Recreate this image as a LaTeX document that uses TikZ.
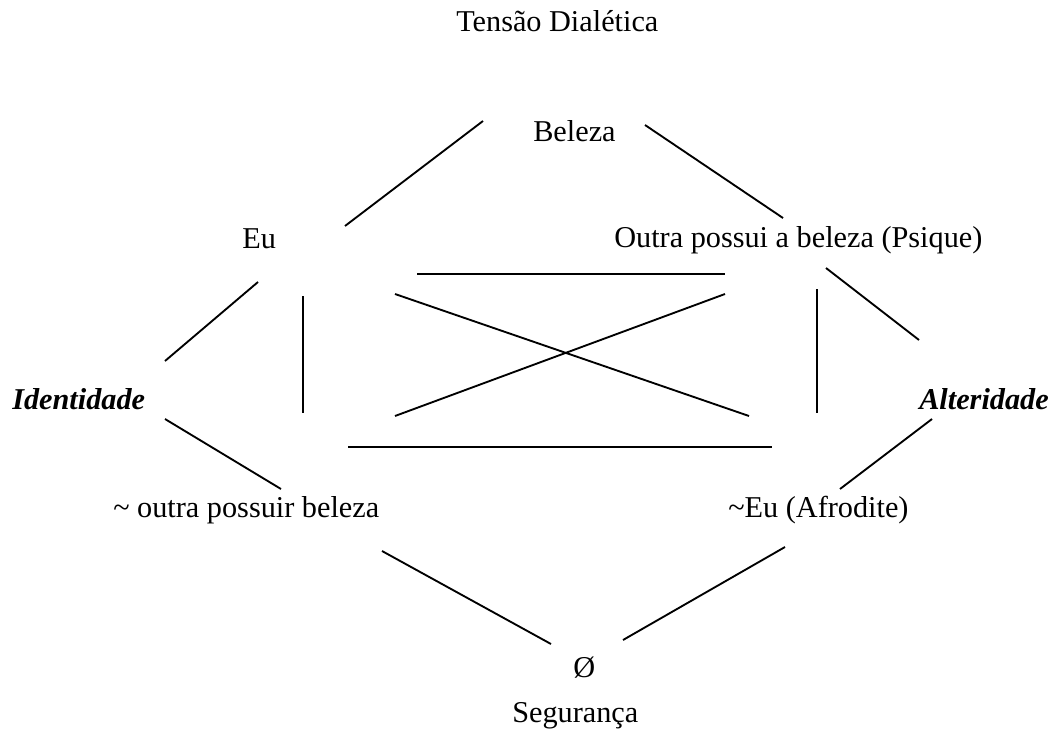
\documentclass[tikz,border=0pt]{standalone}
\usepackage{fontspec}
\setmainfont{Liberation Serif}
\begin{document}
\begin{tikzpicture}[x=0.75pt,y=-0.75pt,
  lbl/.style={inner sep=0pt,anchor=base west,font=\fontsize{22.7}{27}\selectfont},
  emph/.style={lbl,font=\fontsize{22.7}{27}\selectfont\bfseries\itshape},
  conn/.style={line width=1.4pt}]
\useasboundingbox (0,0) rectangle (1062,738);
% labels
\node[lbl] (title) at (456,32) {Tensão Dialética};
\node[lbl] (beleza) at (533,142) {Beleza};
\node[lbl] (eu) at (242,248) {Eu};
\node[lbl] (outra) at (614,247) {Outra possui a beleza (Psique)};
\node[emph] (ident) at (12,409) {Identidade};
\node[emph] (alter) at (919,409) {Alteridade};
\node[lbl] (naooutra) at (113,517) {\textasciitilde{} outra possuir beleza};
\node[lbl] (naoeu) at (728,517) {\textasciitilde Eu (Afrodite)};
\node[lbl] (vazio) at (573,677) {Ø};
\node[lbl] (seg) at (512,722) {Segurança};
% connector end points
\coordinate (a1) at (483,121); \coordinate (a2) at (345,226);
\coordinate (b1) at (645,125); \coordinate (b2) at (783,218);
\coordinate (c1) at (258,282); \coordinate (c2) at (165,361);
\coordinate (d1) at (826,268); \coordinate (d2) at (919,340);
\coordinate (e1) at (303,296); \coordinate (e2) at (303,413);
\coordinate (f1) at (417,274); \coordinate (f2) at (725,274);
\coordinate (g1) at (395,294); \coordinate (g2) at (749,416);
\coordinate (h1) at (725,294); \coordinate (h2) at (395,416);
\coordinate (i1) at (348,447); \coordinate (i2) at (772,447);
\coordinate (j1) at (817,289); \coordinate (j2) at (817,413);
\coordinate (k1) at (165,419); \coordinate (k2) at (281,489);
\coordinate (l1) at (932,419); \coordinate (l2) at (840,489);
\coordinate (m1) at (382,551); \coordinate (m2) at (551,644);
\coordinate (n1) at (785,547); \coordinate (n2) at (623,640);
% connectors
\draw[conn] (a1) -- (a2);
\draw[conn] (b1) -- (b2);
\draw[conn] (c1) -- (c2);
\draw[conn] (d1) -- (d2);
\draw[conn] (e1) -- (e2);
\draw[conn] (f1) -- (f2);
\draw[conn] (g1) -- (g2);
\draw[conn] (h1) -- (h2);
\draw[conn] (i1) -- (i2);
\draw[conn] (j1) -- (j2);
\draw[conn] (k1) -- (k2);
\draw[conn] (l1) -- (l2);
\draw[conn] (m1) -- (m2);
\draw[conn] (n1) -- (n2);
\end{tikzpicture}
\end{document}
